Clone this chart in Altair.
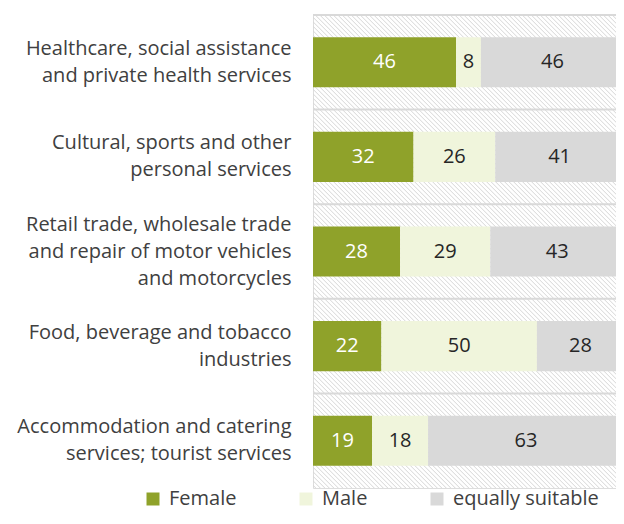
import altair as alt
import pandas as pd

categories = [
    "Healthcare, social assistance|and private health services",
    "Cultural, sports and other|personal services",
    "Retail trade, wholesale trade|and repair of motor vehicles|and motorcycles",
    "Food, beverage and tobacco|industries",
    "Accommodation and catering|services; tourist services",
]
series = ["Female", "Male", "equally suitable"]
female = [46, 32, 28, 22, 19]
male = [8, 26, 29, 50, 18]
equal = [46, 41, 43, 28, 63]
colors = ["#8fa22a", "#f0f5dc", "#d9d9d9"]

rows = []
for vals, s_idx in ((female, 0), (male, 1), (equal, 2)):
    for c, v in zip(categories, vals):
        rows.append({"cat": c, "series": series[s_idx], "order": s_idx, "value": v})
df = pd.DataFrame(rows)
cat_df = pd.DataFrame({"cat": categories})

FONT = "Open Sans"
LEFT, TOP = 305, 7
SVG_W, SVG_H = 608, 503
W, H = SVG_W - LEFT, 473
PX_PER_UNIT = 311.0          # the plot runs past the right edge of the picture
XMAX = W / PX_PER_UNIT
LH = 27
xscale = alt.Scale(domain=[0, XMAX], nice=False, zero=False)
yscale = alt.Scale(domain=categories, paddingInner=0, paddingOuter=0)
yaxis = alt.Axis(
    title=None, labelExpr="split(datum.label, '|')", ticks=False, tickSize=0,
    domain=False, grid=False, labelPadding=22, labelLimit=400, labelFontSize=20,
    labelFont=FONT, labelColor="#404040", labelLineHeight=LH, labelAlign="right",
    labelBaseline="middle",
    labelOffset={
        "condition": {"test": "length(split(datum.value, '|')) >= 3", "value": -LH},
        "value": -LH / 2,
    },
)

# decorative hatch of the plot background
step = 4.5 / PX_PER_UNIT
slope = H / PX_PER_UNIT
hatch = (
    alt.Chart(alt.sequence(-slope - 0.02, XMAX + 0.02, step, as_="h"))
    .transform_calculate(h2=f"datum.h + {slope}")
    .mark_rule(clip=True, color="#d6d6d6", strokeWidth=1)
    .encode(
        x=alt.X("h:Q", scale=xscale, axis=None),
        x2="h2:Q",
        y=alt.value(0),
        y2=alt.value(H),
    )
)

seps = (
    alt.Chart(cat_df)
    .mark_rule(color="#d9d9d9", strokeWidth=2)
    .encode(y=alt.Y("cat:N", sort=categories, scale=yscale, axis=yaxis, bandPosition=0))
)

base = alt.Chart(df).transform_stack(
    stack="value", groupby=["cat"], as_=["x0", "x1"],
    sort=[alt.SortField("order", order="ascending")], offset="normalize",
).transform_calculate(mid="(datum.x0 + datum.x1) / 2")

bars = base.mark_bar(clip=True, height=alt.RelativeBandSize(band=0.53)).encode(
    y=alt.Y("cat:N", sort=categories, scale=yscale, axis=yaxis),
    x=alt.X("x0:Q", scale=xscale, axis=None),
    x2="x1:Q",
    color=alt.Color(
        "series:N",
        scale=alt.Scale(domain=series, range=colors),
        legend=alt.Legend(
            title=None, orient="none", direction="horizontal", legendX=-170, legendY=H + 1,
            symbolType="square", symbolSize=169, symbolStrokeWidth=0,
            labelFont=FONT, labelFontSize=20, labelColor="#404040",
            columnPadding=59, labelOffset=6,
        ),
    ),
)

texts = base.mark_text(font=FONT, fontSize=20, align="center", baseline="middle").encode(
    y=alt.Y("cat:N", sort=categories, scale=yscale, axis=yaxis),
    x=alt.X("mid:Q", scale=xscale, axis=None),
    text="value:Q",
    color=alt.condition(alt.datum.series == "Female", alt.value("white"), alt.value("#262626")),
)

chart = (
    alt.layer(hatch, seps, bars, texts)
    .properties(
        width=W, height=H,
        padding={"left": LEFT, "top": TOP, "right": 0, "bottom": SVG_H - TOP - H},
        autosize=alt.AutoSizeParams(type="none"),
    )
    .configure_view(stroke="#d9d9d9", strokeWidth=2)
    .configure(font=FONT)
)

chart.save("out.html", embed_options={"renderer": "svg", "actions": False})
